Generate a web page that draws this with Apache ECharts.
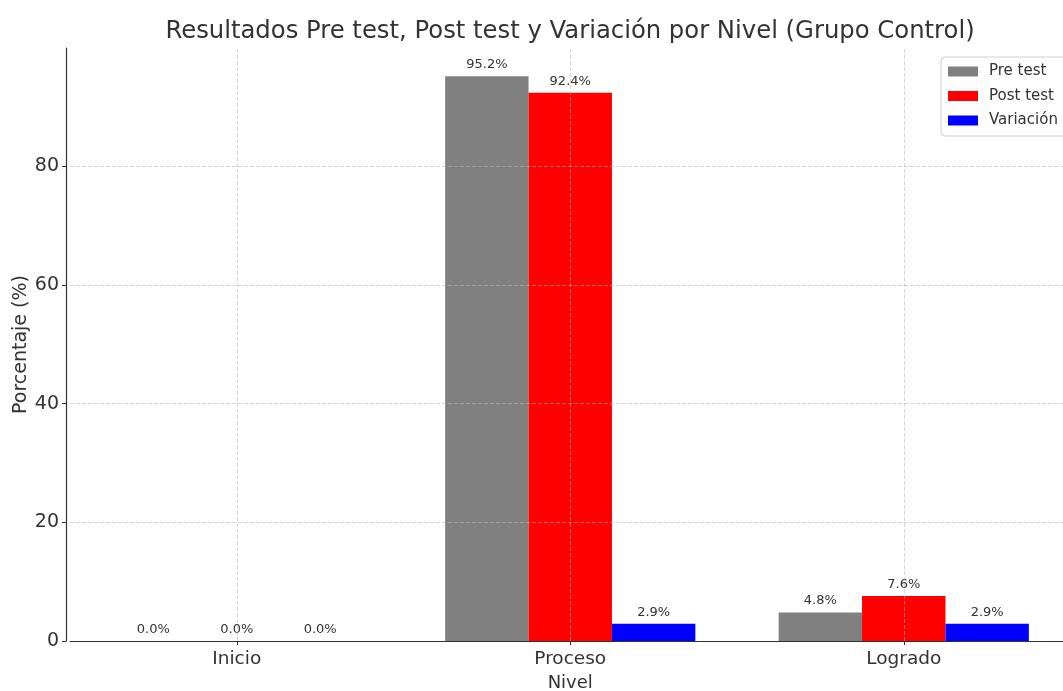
<!DOCTYPE html>
<html>
<head>
<meta charset="utf-8">
<script src="https://cdn.jsdelivr.net/npm/echarts@6/dist/echarts.min.js"></script>
<style>html,body{margin:0;padding:0;background:#fff}#c{width:1063px;height:691px}</style>
</head>
<body>
<div id="c"></div>
<script>
const categories = ['Inicio', 'Proceso', 'Logrado'];
const preTest = [0.0, 95.2, 4.8];
const postTest = [0.0, 92.4, 7.6];
const variacion = [0.0, 2.9, 2.9];
const yTicks = [0, 20, 40, 60, 80];
const seriesNames = ['Pre test', 'Post test', 'Variación'];
const colors = ['#808080', '#ff0000', '#0000ff'];

const FONT = 'DejaVu Sans';
const TXT = '#333333';
const yMax = Math.max(...preTest, ...postTest, ...variacion) * 1.05;

function mk(vals, i) {
  return {
    name: seriesNames[i],
    type: 'bar',
    data: vals,
    barWidth: 83.4,
    barGap: '0%',
    itemStyle: { color: colors[i] },
    label: {
      show: true, position: 'top', distance: 5,
      formatter: p => Number(p.value).toFixed(1) + '%',
      fontFamily: FONT, fontSize: 13, color: TXT
    }
  };
}

const gridLineStyle = { color: 'rgba(180,180,180,0.7)', type: [4, 2], width: 0.8 };
const series = [mk(preTest, 0), mk(postTest, 1), mk(variacion, 2), {
  name: '_grid', type: 'line', data: [], silent: true, z: 5,
  markLine: {
    silent: true, symbol: 'none', animation: false,
    label: { show: false },
    lineStyle: gridLineStyle,
    data: categories.map(c => ({ xAxis: c })).concat(yTicks.filter(v => v > 0).map(v => ({ yAxis: v })))
  }
}];

const chart = echarts.init(document.getElementById('c'), null, { renderer: 'canvas' });
chart.setOption({
  animation: false,
  backgroundColor: '#fff',
  title: {
    text: 'Resultados Pre test, Post test y Variación por Nivel (Grupo Control)',
    left: 565, top: 15, textAlign: 'center',
    textStyle: { fontFamily: FONT, fontSize: 24.3, fontWeight: 'normal', color: TXT }
  },
  legend: {
    orient: 'vertical', left: 941, top: 57,
    data: seriesNames,
    icon: 'rect',
    itemWidth: 30, itemHeight: 10, itemGap: 9.5,
    padding: [7, 10, 8, 7],
    backgroundColor: '#fff', borderColor: '#d0d0d0', borderWidth: 1, borderRadius: 4,
    textStyle: { fontFamily: FONT, fontSize: 15, color: TXT, lineHeight: 15, padding: [0, 0, 0, 6] }
  },
  grid: { left: 70, top: 48, bottom: 50, width: 1000.5, containLabel: false, outerBoundsMode: 'none' },
  xAxis: {
    type: 'category', data: categories, boundaryGap: true,
    name: 'Nivel', nameLocation: 'middle', nameGap: 33, nameMoveOverlap: false,
    nameTextStyle: { fontFamily: FONT, fontSize: 18, color: TXT },
    axisLine: { show: true, lineStyle: { color: '#333', width: 1.2 } },
    axisTick: { show: true, alignWithLabel: true, length: 4, lineStyle: { color: '#333' } },
    axisLabel: { fontFamily: FONT, fontSize: 18.5, color: TXT, margin: 8.5 },
    splitLine: { show: false }
  },
  yAxis: {
    type: 'value', min: 0, max: yMax, interval: 20, offset: 4,
    name: 'Porcentaje (%)', nameLocation: 'middle', nameGap: 35, nameMoveOverlap: false,
    nameTextStyle: { fontFamily: FONT, fontSize: 19, color: TXT },
    axisLine: { show: true, onZero: false, lineStyle: { color: '#333', width: 1.2 } },
    axisTick: { show: true, customValues: yTicks, length: 4, lineStyle: { color: '#333' } },
    axisLabel: { customValues: yTicks, fontFamily: FONT, fontSize: 19, color: TXT, margin: 7 },
    splitLine: { show: false }
  },
  series: series
});
</script>
</body>
</html>
